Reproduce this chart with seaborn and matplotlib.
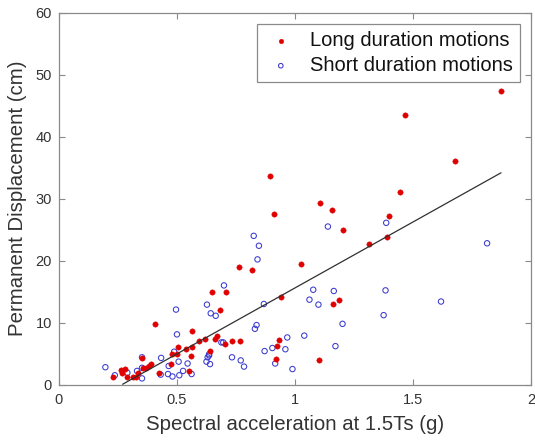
import matplotlib
matplotlib.use("Agg")
import matplotlib.pyplot as plt
import seaborn as sns
import pandas as pd
import numpy as np

# Long duration motions (red filled dots)
long_x = [1.872, 1.464, 1.677, 1.446, 1.397, 1.390, 1.311, 0.895, 1.105, 1.156,
          0.912, 1.202, 0.762, 0.817, 1.025, 0.648, 0.707, 0.684, 0.940, 1.160,
          1.187, 0.620, 0.668, 0.703, 0.731, 0.768, 0.932, 0.922, 0.918, 1.101,
          0.640, 0.406, 0.564, 0.592, 0.540, 0.564, 0.504, 0.479, 0.502, 0.561,
          0.352, 0.392, 0.381, 0.371, 0.356, 0.474, 0.553, 0.422, 0.262, 0.279,
          0.268, 0.288, 0.312, 0.326, 0.333, 0.231, 0.660]
long_y = [47.4, 43.5, 36.0, 31.0, 27.2, 23.8, 22.7, 33.7, 29.3, 28.1,
          27.5, 25.0, 19.0, 18.5, 19.5, 15.0, 14.9, 12.1, 14.1, 13.0,
          13.7, 7.3, 7.8, 6.6, 7.0, 7.0, 7.2, 6.2, 4.2, 3.9,
          5.4, 9.7, 8.6, 7.1, 5.7, 6.1, 6.1, 4.9, 4.9, 4.6,
          4.3, 3.3, 3.0, 2.7, 2.7, 3.3, 2.2, 1.9, 2.3, 2.5,
          1.9, 1.3, 1.3, 1.3, 1.9, 1.3, 7.4]

# Short duration motions (blue open circles)
short_x = [1.386, 1.813, 1.383, 1.618, 1.375, 1.139, 0.825, 0.847, 0.841, 0.699,
           0.627, 0.643, 0.664, 0.868, 1.077, 1.164, 1.061, 1.099, 1.201, 0.837,
           0.830, 1.039, 0.967, 1.171, 0.904, 0.871, 0.959, 0.688, 0.696, 0.733,
           0.770, 0.784, 0.916, 0.989, 0.636, 0.625, 0.640, 0.630, 0.496, 0.500,
           0.433, 0.488, 0.465, 0.507, 0.526, 0.545, 0.562, 0.510, 0.462, 0.481,
           0.431, 0.636, 0.352, 0.331, 0.352, 0.197, 0.237, 0.290, 0.352]
short_y = [26.1, 22.8, 15.2, 13.4, 11.2, 25.5, 24.0, 22.4, 20.2, 16.0,
           12.9, 11.5, 11.1, 13.0, 15.3, 15.1, 13.7, 12.9, 9.8, 9.6,
           9.0, 7.9, 7.6, 6.2, 5.9, 5.4, 5.7, 6.8, 6.8, 4.4,
           3.9, 2.9, 3.4, 2.5, 4.7, 3.7, 3.3, 4.4, 12.1, 8.1,
           4.3, 5.3, 3.0, 3.7, 2.2, 3.4, 1.7, 1.5, 1.7, 1.3,
           1.6, 4.9, 4.4, 2.2, 1.0, 2.8, 1.5, 1.9, 2.7]

# Linear fit line
fit_slope = 21.3
fit_intercept = -5.7
fit_x_range = [0.27, 1.872]

x_ticks = [0, 0.5, 1, 1.5, 2]
x_tick_labels = ["0", "0.5", "1", "1.5", "2"]
y_ticks = [0, 10, 20, 30, 40, 50, 60]

sns.set_style("white")
plt.rcParams['font.family'] = ['Liberation Sans', 'DejaVu Sans']

fig = plt.figure(figsize=(5.35, 4.4), dpi=100)
ax = fig.add_axes([0.110, 0.126, 0.883, 0.845])

df_long = pd.DataFrame({"x": long_x, "y": long_y})
df_short = pd.DataFrame({"x": short_x, "y": short_y})

sns.scatterplot(data=df_long, x="x", y="y", ax=ax, color="#e00000", s=15,
                marker="o", edgecolor="#e00000", linewidth=0.3,
                label="Long duration motions", zorder=3)
sns.scatterplot(data=df_short, x="x", y="y", ax=ax, s=15, marker="o",
                facecolor="none", edgecolor="#3a3ad0", linewidth=0.75,
                label="Short duration motions", zorder=2)

fx = np.array(fit_x_range)
df_fit = pd.DataFrame({"x": fx, "y": fit_slope * fx + fit_intercept})
sns.lineplot(data=df_fit, x="x", y="y", ax=ax, color="#303030", linewidth=0.9,
             legend=False, zorder=4)

ax.set_xlim(0, 2)
ax.set_ylim(0, 60)
ax.set_xticks(x_ticks)
ax.set_xticklabels(x_tick_labels)
ax.set_yticks(y_ticks)

spine_col = "#8a8a8a"
for sp in ax.spines.values():
    sp.set_color(spine_col)
    sp.set_linewidth(0.9)
    sp.set_visible(True)
ax.tick_params(direction="in", length=4, width=0.8, colors=spine_col,
               labelcolor="#333333", labelsize=10.5, top=True, right=True,
               bottom=True, left=True)
ax.tick_params(axis="x", pad=6)
ax.tick_params(axis="y", pad=5)

ax.set_xlabel("Spectral acceleration at 1.5Ts (g)", fontsize=14.7,
              color="#333333", labelpad=6)
ax.set_ylabel("Permanent Displacement (cm)", fontsize=14.7,
              color="#333333", labelpad=6)

leg = ax.legend(loc="upper right", fontsize=14.5, frameon=True, fancybox=False,
                framealpha=1, edgecolor="#8a8a8a", borderpad=0.35,
                borderaxespad=0, handletextpad=0.6, labelspacing=0.3,
                markerscale=0.85, handlelength=1.7,
                bbox_to_anchor=(0.976, 0.970))
leg.get_frame().set_linewidth(0.9)
for t in leg.get_texts():
    t.set_color("#111111")

fig.savefig("out.png", dpi=100)
